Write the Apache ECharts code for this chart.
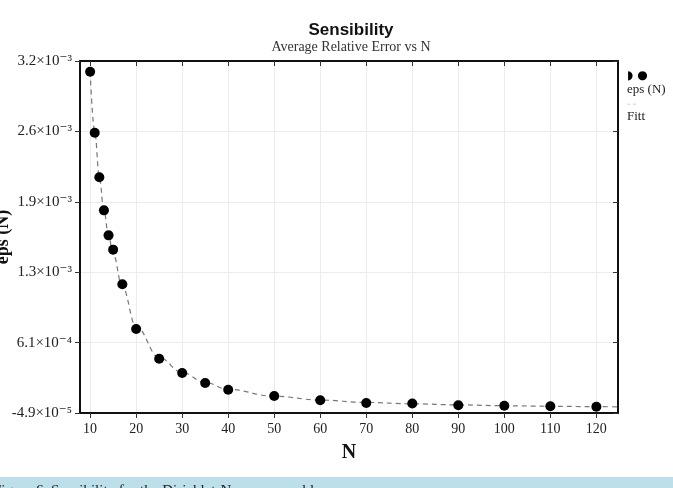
<!DOCTYPE html>
<html>
<head>
<meta charset="utf-8">
<script src="https://cdn.jsdelivr.net/npm/echarts@6/dist/echarts.min.js"></script>
<style>
  html, body { margin: 0; padding: 0; background: #fff; }
  #chart { width: 673px; height: 488px; }
</style>
</head>
<body>
<div id="chart"></div>
<script>
// data
const nValues = [10, 11, 12, 13, 14, 15, 17, 20, 25, 30, 35, 40, 50, 60, 70, 80, 90, 100, 110, 120]
const epsValues = [3.146e-3, 2.575e-3, 2.157e-3, 1.848e-3, 1.614e-3, 1.480e-3, 1.156e-3, 7.37e-4,
  4.59e-4, 3.25e-4, 2.32e-4, 1.69e-4, 1.10e-4, 7.0e-5, 4.4e-5, 4.0e-5, 2.3e-5, 1.9e-5, 1.4e-5, 1.0e-5]
const fitN = [10, 11, 12, 13, 14, 15, 17, 20, 25, 30, 35, 40, 50, 60, 70, 80, 90, 100, 110, 120, 124.7]
const fitValues = [3.146e-3, 2.585e-3, 2.160e-3, 1.845e-3, 1.610e-3, 1.440e-3, 1.130e-3, 7.60e-4,
  4.70e-4, 3.30e-4, 2.36e-4, 1.72e-4, 1.08e-4, 7.2e-5, 5.0e-5, 3.7e-5, 2.7e-5, 1.9e-5, 1.4e-5, 1.0e-5, 0.9e-5]
const xTicks = [10, 20, 30, 40, 50, 60, 70, 80, 90, 100, 110, 120]
const yTickValues = [-4.9e-5, 6.1e-4, 1.269e-3, 1.928e-3, 2.587e-3, 3.246e-3]
const yTickLabels = ['-4.9×10⁻⁵', '6.1×10⁻⁴', '1.3×10⁻³', '1.9×10⁻³', '2.6×10⁻³', '3.2×10⁻³']

const serif = "'Liberation Serif', 'DejaVu Serif', serif"
const X_MIN = 7.8, X_MAX = 124.7
const Y_MIN = -4.9e-5, Y_MAX = 3.246e-3

function yLabel(v) {
  let best = 0
  yTickValues.forEach((t, i) => {
    if (Math.abs(t - v) < Math.abs(yTickValues[best] - v)) best = i
  })
  return yTickLabels[best]
}

const gridLine = { show: true, lineStyle: { color: '#ececec', width: 1 } }

const chart = echarts.init(document.getElementById('chart'))
chart.setOption({
  animation: false,
  title: {
    text: 'Sensibility',
    subtext: 'Average Relative Error vs N',
    left: 346,
    textAlign: 'center',
    top: 17,
    itemGap: 1,
    textStyle: { fontFamily: "'Liberation Sans', Arial, sans-serif", fontWeight: 'bold', fontSize: 17, color: '#111' },
    subtextStyle: { fontFamily: serif, fontSize: 14, color: '#333' }
  },
  legend: {
    orient: 'vertical',
    left: 617,
    top: 65,
    itemWidth: 0,
    itemHeight: 0,
    itemGap: 4,
    selectedMode: false,
    data: [{ name: 'eps (N)', icon: 'none' }, { name: 'Fitt', icon: 'none' }],
    formatter: name => name === 'Fitt'
      ? '{l|– –}\n{t|Fitt}'
      : '{d|◗ ●}\n{t|eps (N)}',
    textStyle: {
      fontFamily: serif, fontSize: 13, color: '#222',
      rich: {
        d: { fontFamily: "'DejaVu Sans', sans-serif", fontSize: 12, lineHeight: 14, color: '#000' },
        l: { fontFamily: "'DejaVu Sans', sans-serif", fontSize: 7, lineHeight: 12, color: '#999' },
        t: { fontFamily: serif, fontSize: 13, lineHeight: 14, color: '#222' }
      }
    }
  },
  grid: { left: 80, right: 55, top: 61, bottom: 75, outerBoundsMode: 'none', containLabel: false },
  xAxis: [{
    type: 'value',
    min: X_MIN,
    max: X_MAX,
    name: 'N',
    nameLocation: 'middle',
    nameGap: 30,
    nameMoveOverlap: false,
    nameTextStyle: { fontFamily: serif, fontWeight: 'bold', fontSize: 20, color: '#111' },
    axisLine: { show: true, onZero: false, lineStyle: { color: '#111', width: 2 } },
    axisTick: { show: true, length: 5, customValues: xTicks, lineStyle: { color: '#333', width: 1 } },
    axisLabel: { customValues: xTicks, margin: 9, fontFamily: serif, fontSize: 14, color: '#222' },
    splitLine: gridLine
  }, {
    type: 'value',
    position: 'top',
    min: X_MIN,
    max: X_MAX,
    axisLine: { show: true, onZero: false, lineStyle: { color: '#111', width: 2 } },
    axisTick: { show: true, inside: true, length: 5, customValues: xTicks, lineStyle: { color: '#333', width: 1 } },
    axisLabel: { show: false },
    splitLine: { show: false }
  }],
  yAxis: [{
    type: 'value',
    min: Y_MIN,
    max: Y_MAX,
    name: 'eps (N)',
    nameLocation: 'middle',
    nameGap: 68,
    nameMoveOverlap: false,
    nameTextStyle: { fontFamily: serif, fontWeight: 'bold', fontSize: 18, color: '#111' },
    axisLine: { show: true, onZero: false, lineStyle: { color: '#111', width: 2 } },
    axisTick: { show: true, length: 5, customValues: yTickValues, lineStyle: { color: '#333', width: 1 } },
    axisLabel: { customValues: yTickValues, margin: 8, formatter: yLabel, fontFamily: serif, fontSize: 15, color: '#222' },
    splitLine: gridLine
  }, {
    type: 'value',
    position: 'right',
    min: Y_MIN,
    max: Y_MAX,
    axisLine: { show: true, onZero: false, lineStyle: { color: '#111', width: 2 } },
    axisTick: { show: true, inside: true, length: 5, customValues: yTickValues, lineStyle: { color: '#333', width: 1 } },
    axisLabel: { show: false },
    splitLine: { show: false }
  }],
  series: [{
    name: 'Fitt',
    type: 'line',
    data: fitN.map((n, i) => [n, fitValues[i]]),
    smooth: 0.4,
    smoothMonotone: 'x',
    showSymbol: false,
    lineStyle: { color: '#777', width: 1.2, type: [5, 4] },
    z: 2
  }, {
    name: 'eps (N)',
    type: 'scatter',
    data: nValues.map((n, i) => [n, epsValues[i]]),
    symbolSize: 10,
    itemStyle: { color: '#000', opacity: 1 },
    z: 3
  }],
  graphic: [{
    type: 'rect',
    left: 0,
    top: 477,
    shape: { width: 673, height: 11 },
    style: { fill: '#bcdfea' },
    silent: true
  }, {
    type: 'text',
    left: -7,
    top: 484,
    style: {
      text: 'Figure 6. Sensibility for the Dirichlet-Neumann problem.',
      font: "15px 'Liberation Serif', serif",
      fill: '#222'
    },
    silent: true
  }]
})
</script>
</body>
</html>
